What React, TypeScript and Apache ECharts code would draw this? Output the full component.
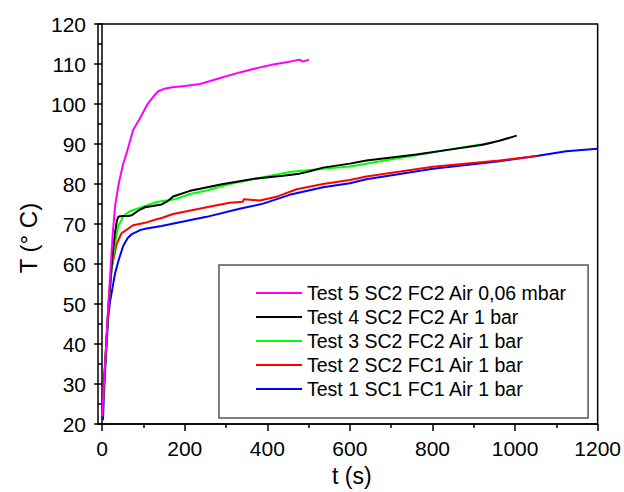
import React, { useEffect, useRef } from "react";
import * as echarts from "echarts";

const seriesNames = [
  "Test 5 SC2 FC2 Air 0,06 mbar",
  "Test 4 SC2 FC2 Ar 1 bar",
  "Test 3 SC2 FC2 Air 1 bar",
  "Test 2 SC2 FC1 Air 1 bar",
  "Test 1 SC1 FC1 Air 1 bar",
];
const seriesColors = ["#ff00ff", "#000000", "#00ff00", "#ff0000", "#0000ff"];

const test5: number[][] = [
  [0, 22], [5, 31], [10, 40], [15, 50], [20, 58], [26, 68], [32, 75], [41, 80.5],
  [51, 85], [60, 88], [75, 93.5], [92, 96.5], [110, 100], [125, 102], [136, 103.2],
  [150, 103.8], [170, 104.2], [200, 104.5], [237, 105], [280, 106.3], [333, 107.9],
  [380, 109.1], [414, 109.9], [450, 110.5], [478, 111.1], [486, 110.6], [501, 111.1],
];
const test4: number[][] = [
  [0, 22.5], [5, 31], [10, 40], [15, 49], [20, 56], [26, 63], [31, 67.7], [36, 71],
  [40, 71.9], [50, 72], [63, 72], [72, 72.2], [88, 73.4], [104, 74.2], [144, 74.9],
  [160, 75.8], [172, 76.9], [213, 78.3], [237, 78.8], [293, 80], [374, 81.4],
  [438, 82.1], [478, 82.6], [503, 83.2], [535, 84.1], [600, 85.1], [640, 85.9],
  [761, 87.4], [841, 88.6], [922, 89.8], [962, 90.8], [1004, 92.1],
];
const test3: number[][] = [
  [0, 22], [5, 30.5], [10, 39.5], [15, 48.5], [20, 55], [23, 59], [31, 65], [39, 69.5],
  [47, 71], [51, 72], [67, 73.2], [96, 74.2], [132, 75.5], [176, 76.2], [196, 76.9],
  [213, 77.5], [253, 78.4], [309, 80], [374, 81.4], [454, 83], [535, 83.8], [600, 84.4],
  [720, 86.5], [841, 88.6], [946, 90.4],
];
const test2: number[][] = [
  [0, 23], [5, 31], [10, 40], [15, 48.5], [20, 55], [23, 59], [35, 65], [47, 67.7],
  [51, 68], [75, 69.7], [104, 70.3], [132, 71.2], [144, 71.5], [172, 72.5], [253, 74.2],
  [309, 75.3], [341, 75.6], [343, 76.2], [382, 75.9], [422, 76.8], [471, 78.7],
  [535, 80], [600, 81], [640, 81.9], [801, 84.3], [962, 85.9], [1052, 87],
];
const test1: number[][] = [
  [2, 21], [5, 29], [10, 38.5], [15, 47], [19, 50.5], [25, 54], [31, 57.5], [40, 61],
  [51, 64.5], [62, 66.5], [72, 67.5], [92, 68.5], [104, 68.8], [144, 69.5], [176, 70.2],
  [253, 71.8], [333, 73.8], [390, 75.1], [454, 77.3], [535, 79.2], [600, 80.2],
  [640, 81.2], [801, 83.8], [962, 85.7], [1052, 87], [1124, 88.2], [1199, 88.8],
];
const seriesData = [test5, test4, test3, test2, test1];

const xMajorTicks = [0, 200, 400, 600, 800, 1000, 1200];
const xMinorTicks = [100, 300, 500, 700, 900, 1100];

const FONT = "'Liberation Sans', Arial, sans-serif";

export default function App() {
  const ref = useRef<HTMLDivElement>(null);
  useEffect(() => {
    document.body.style.margin = "0";
    const chart = echarts.init(ref.current!, null, { renderer: "svg" });
    chart.setOption({
      animation: false,
      backgroundColor: "#ffffff",
      grid: {
        left: 98,
        right: 26,
        top: 24,
        bottom: 61.5,
        show: true,
        borderColor: "#000",
        borderWidth: 1.5,
      },
      legend: {
        orient: "vertical",
        left: 219,
        top: 265,
        data: seriesNames,
        icon: "rect",
        padding: [18, 21, 19, 37],
        itemWidth: 46,
        itemHeight: 2,
        itemGap: 4,
        borderColor: "#555",
        borderWidth: 1.5,
        textStyle: { fontFamily: FONT, fontSize: 19.5, color: "#000", lineHeight: 20 },
      },
      xAxis: [
        {
          type: "value",
          min: -10,
          max: 1200,
          position: "bottom",
          name: "t (s)",
          nameLocation: "middle",
          nameGap: 39,
          nameTextStyle: { fontFamily: FONT, fontSize: 23, color: "#000", padding: [0, 0, 0, 8] },
          axisLine: { show: true, lineStyle: { color: "#000", width: 1.5 } },
          axisTick: { show: true, customValues: xMajorTicks, length: 7, lineStyle: { color: "#000", width: 1.5 } },
          axisLabel: {
            customValues: xMajorTicks,
            margin: 14,
            fontFamily: FONT,
            fontSize: 21,
            color: "#000",
            formatter: (v: number) => String(v),
          },
          splitLine: { show: false },
        },
        {
          type: "value",
          min: -10,
          max: 1200,
          position: "bottom",
          axisLine: { show: false },
          axisTick: { show: true, customValues: xMinorTicks, length: 4, lineStyle: { color: "#000", width: 1.5 } },
          axisLabel: { show: false },
          splitLine: { show: false },
        },
      ],
      yAxis: {
        type: "value",
        min: 20,
        max: 120,
        interval: 10,
        name: "T (° C)",
        nameLocation: "middle",
        nameGap: 57,
        nameTextStyle: { fontFamily: FONT, fontSize: 24, color: "#000", padding: [0, 28, 0, 0] },
        axisLine: { show: true, lineStyle: { color: "#000", width: 1.5 } },
        axisTick: { show: true, length: 8, lineStyle: { color: "#000", width: 1.5 } },
        minorTick: { show: true, splitNumber: 2, length: 4, lineStyle: { color: "#000", width: 1.5 } },
        axisLabel: { margin: 12, fontFamily: FONT, fontSize: 21, color: "#000", formatter: (v: number) => String(v) },
        splitLine: { show: false },
      },
      series: seriesNames.map((name, i) => ({
        name,
        type: "line",
        xAxisIndex: 0,
        data: seriesData[i],
        symbol: "none",
        smooth: false,
        z: 10 - i,
        lineStyle: { color: seriesColors[i], width: 2 },
        itemStyle: { color: seriesColors[i] },
      })),
    });
    return () => chart.dispose();
  }, []);
  return <div ref={ref} style={{ width: 624, height: 492 }} />;
}
